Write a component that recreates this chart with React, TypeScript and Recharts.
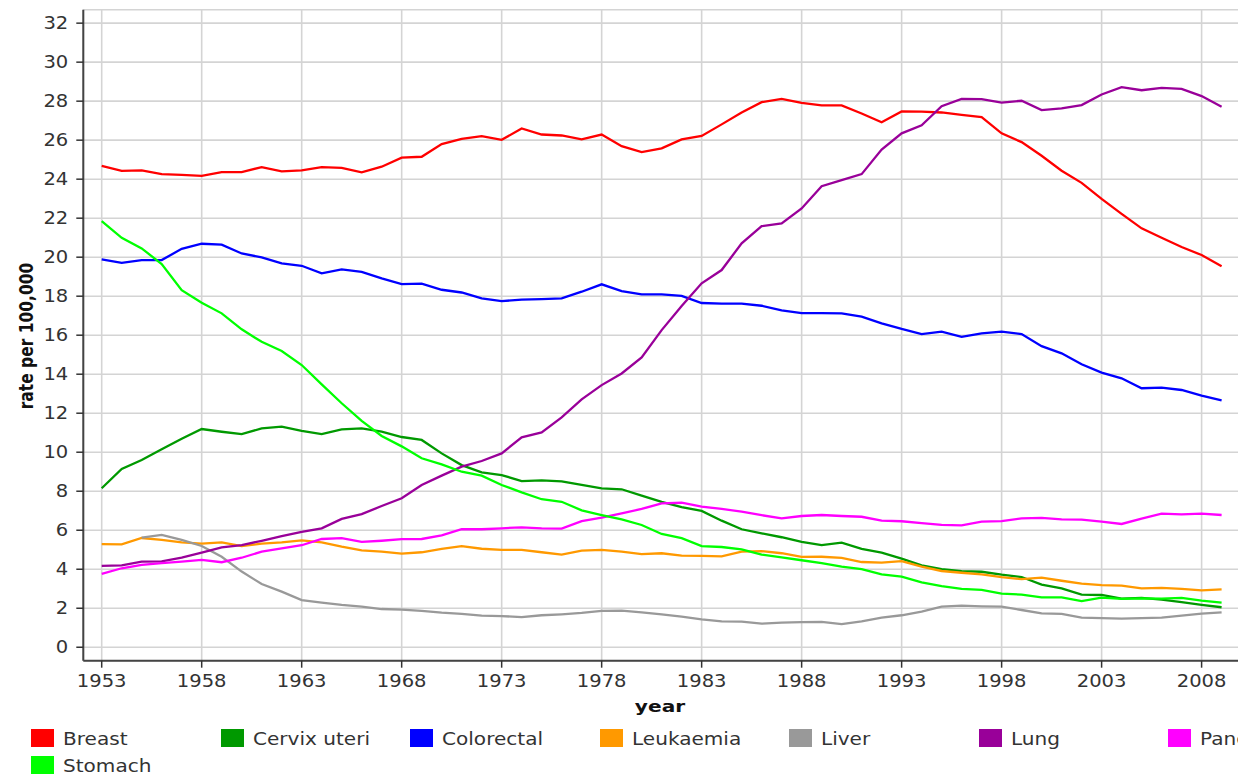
import React from "react";
import { LineChart, Line, XAxis, YAxis, CartesianGrid } from "recharts";

const years = [
  1953, 1954, 1955, 1956, 1957, 1958, 1959, 1960, 1961, 1962, 1963, 1964, 1965, 1966, 1967, 1968,
  1969, 1970, 1971, 1972, 1973, 1974, 1975, 1976, 1977, 1978, 1979, 1980, 1981, 1982, 1983, 1984,
  1985, 1986, 1987, 1988, 1989, 1990, 1991, 1992, 1993, 1994, 1995, 1996, 1997, 1998, 1999, 2000,
  2001, 2002, 2003, 2004, 2005, 2006, 2007, 2008, 2009,
];

const breast = [
  24.68, 24.43, 24.45, 24.26, 24.22, 24.17, 24.36, 24.36, 24.62, 24.4, 24.45, 24.62, 24.58, 24.35, 24.64, 25.1,
  25.15, 25.8, 26.07, 26.21, 26.02, 26.6, 26.29, 26.24, 26.04, 26.29, 25.69, 25.39, 25.58, 26.04, 26.22, 26.81,
  27.42, 27.95, 28.12, 27.91, 27.78, 27.78, 27.37, 26.92, 27.47, 27.46, 27.42, 27.3, 27.18, 26.35, 25.9, 25.2,
  24.43, 23.81, 22.99, 22.22, 21.48, 21.0, 20.52, 20.11, 19.54,
];
const cervix = [
  8.15, 9.14, 9.6, 10.15, 10.69, 11.19, 11.05, 10.93, 11.22, 11.31, 11.1, 10.93, 11.17, 11.22, 11.05, 10.78,
  10.63, 9.94, 9.34, 8.97, 8.83, 8.52, 8.56, 8.51, 8.32, 8.15, 8.1, 7.77, 7.45, 7.18, 6.99, 6.49,
  6.05, 5.84, 5.64, 5.4, 5.24, 5.36, 5.04, 4.85, 4.54, 4.2, 4.0, 3.9, 3.87, 3.72, 3.6, 3.21,
  3.02, 2.7, 2.68, 2.49, 2.53, 2.44, 2.31, 2.17, 2.05,
];
const colorectal = [
  19.89, 19.71, 19.85, 19.85, 20.43, 20.69, 20.64, 20.19, 19.99, 19.68, 19.56, 19.17, 19.37, 19.25, 18.91, 18.62,
  18.64, 18.33, 18.19, 17.89, 17.75, 17.82, 17.85, 17.89, 18.23, 18.61, 18.26, 18.09, 18.09, 18.02, 17.65, 17.62,
  17.62, 17.51, 17.27, 17.13, 17.13, 17.12, 16.95, 16.61, 16.32, 16.06, 16.18, 15.92, 16.09, 16.18, 16.06, 15.44,
  15.07, 14.51, 14.08, 13.79, 13.28, 13.31, 13.19, 12.9, 12.66,
];
const leukaemia = [
  5.29, 5.27, 5.6, 5.5, 5.38, 5.31, 5.38, 5.19, 5.31, 5.38, 5.48, 5.38, 5.16, 4.97, 4.9, 4.8,
  4.87, 5.04, 5.18, 5.05, 4.99, 4.99, 4.87, 4.75, 4.95, 4.99, 4.9, 4.77, 4.82, 4.7, 4.68, 4.66,
  4.9, 4.93, 4.82, 4.63, 4.64, 4.58, 4.37, 4.34, 4.42, 4.13, 3.91, 3.82, 3.74, 3.59, 3.49, 3.57,
  3.41, 3.26, 3.19, 3.16, 3.02, 3.04, 2.99, 2.92, 2.97,
];
const liver = [
  null, null, 5.62, 5.76, 5.5, 5.19, 4.64, 3.88, 3.24, 2.85, 2.42, 2.29, 2.17, 2.08, 1.96, 1.93,
  1.86, 1.77, 1.71, 1.62, 1.6, 1.54, 1.64, 1.69, 1.76, 1.86, 1.88, 1.79, 1.69, 1.57, 1.43, 1.33,
  1.31, 1.21, 1.26, 1.29, 1.3, 1.19, 1.33, 1.52, 1.64, 1.83, 2.08, 2.13, 2.1, 2.08, 1.91, 1.74,
  1.71, 1.52, 1.49, 1.47, 1.49, 1.52, 1.62, 1.72, 1.79,
];
const lung = [
  4.17, 4.2, 4.39, 4.4, 4.59, 4.85, 5.12, 5.24, 5.46, 5.7, 5.91, 6.1, 6.58, 6.83, 7.24, 7.64,
  8.32, 8.8, 9.26, 9.55, 9.94, 10.76, 11.02, 11.79, 12.71, 13.44, 14.04, 14.86, 16.26, 17.5, 18.66, 19.34,
  20.71, 21.59, 21.73, 22.5, 23.64, 23.95, 24.26, 25.52, 26.35, 26.76, 27.74, 28.12, 28.1, 27.93, 28.02, 27.54,
  27.63, 27.8, 28.34, 28.72, 28.56, 28.68, 28.63, 28.26, 27.71,
];
const pancreas = [
  3.76, 4.05, 4.22, 4.31, 4.39, 4.48, 4.36, 4.59, 4.9, 5.07, 5.23, 5.55, 5.59, 5.4, 5.46, 5.54,
  5.55, 5.74, 6.05, 6.05, 6.1, 6.15, 6.1, 6.08, 6.47, 6.64, 6.87, 7.09, 7.38, 7.41, 7.21, 7.09,
  6.95, 6.77, 6.61, 6.73, 6.78, 6.73, 6.69, 6.49, 6.46, 6.36, 6.27, 6.25, 6.44, 6.47, 6.61, 6.63,
  6.56, 6.54, 6.44, 6.32, 6.59, 6.85, 6.81, 6.85, 6.78,
];
const stomach = [
  21.85, 20.99, 20.45, 19.65, 18.31, 17.66, 17.12, 16.3, 15.66, 15.19, 14.47, 13.48, 12.51, 11.61, 10.83, 10.3,
  9.69, 9.38, 9.0, 8.8, 8.32, 7.94, 7.59, 7.46, 7.02, 6.78, 6.56, 6.27, 5.81, 5.59, 5.19, 5.14,
  5.02, 4.75, 4.61, 4.46, 4.31, 4.13, 4.01, 3.74, 3.62, 3.33, 3.13, 2.99, 2.94, 2.75, 2.7, 2.56,
  2.56, 2.37, 2.54, 2.48, 2.51, 2.49, 2.53, 2.39, 2.29,
];

const seriesNames = ["Breast", "Cervix uteri", "Colorectal", "Leukaemia", "Liver", "Lung", "Pancreas", "Stomach"];
const seriesValues = [breast, cervix, colorectal, leukaemia, liver, lung, pancreas, stomach];
const seriesColors = ["#ff0000", "#009900", "#0000ff", "#ff9900", "#999999", "#990099", "#ff00ff", "#00ff00"];

const xTicks = [1953, 1958, 1963, 1968, 1973, 1978, 1983, 1988, 1993, 1998, 2003, 2008];
const yTicks = [0, 2, 4, 6, 8, 10, 12, 14, 16, 18, 20, 22, 24, 26, 28, 30, 32];

const data = years.map((year, i) => {
  const row: Record<string, number | null> = { year };
  seriesNames.forEach((name, s) => {
    row[name] = seriesValues[s][i];
  });
  return row;
});

const FONT = "'DejaVu Sans', Verdana, sans-serif";
const STRETCH = 1.15;

const XTick = (props: any) => {
  const { x, y, payload } = props;
  return (
    <text
      x={x}
      y={y}
      dy="0.71em"
      textAnchor="middle"
      fontSize={17}
      fontFamily={FONT}
      fill="#333"
      transform={`translate(${x} 0) scale(${STRETCH} 1) translate(${-x} 0)`}
    >
      {payload.value}
    </text>
  );
};

const YTick = (props: any) => {
  const { x, y, payload } = props;
  return (
    <text
      x={x}
      y={y}
      dy="0.36em"
      textAnchor="end"
      fontSize={17}
      fontFamily={FONT}
      fill="#333"
      transform={`translate(${x} 0) scale(${STRETCH} 1) translate(${-x} 0)`}
    >
      {payload.value}
    </text>
  );
};

export default function App() {
  return (
    <div
      style={{
        position: "absolute",
        left: 0,
        top: 0,
        width: 1238,
        height: 775,
        overflow: "hidden",
        background: "#fff",
        fontFamily: FONT,
      }}
    >
      <LineChart
        width={1250}
        height={700}
        data={data}
        margin={{ top: 9.7, right: 10, left: 0, bottom: 0 }}
      >
        <CartesianGrid stroke="#d4d4d4" strokeWidth={1.6} />
        <XAxis
          dataKey="year"
          type="number"
          domain={[1952.08, 2009.92]}
          ticks={xTicks}
          allowDataOverflow
          height={39.3}
          axisLine={{ stroke: "#444", strokeWidth: 2 }}
          tickLine={{ stroke: "#333", strokeWidth: 1.5 }}
          tickSize={7}
          tickMargin={7}
          tick={<XTick />}
          interval={0}
        />
        <XAxis
          xAxisId="top"
          orientation="top"
          dataKey="year"
          type="number"
          domain={[1952.08, 2009.92]}
          height={0}
          tick={false}
          tickLine={false}
          axisLine={{ stroke: "#444", strokeWidth: 2 }}
        />
        <YAxis
          type="number"
          domain={[-0.69, 32.69]}
          ticks={yTicks}
          allowDataOverflow
          width={83.3}
          axisLine={{ stroke: "#444", strokeWidth: 2 }}
          tickLine={{ stroke: "#333", strokeWidth: 1.5 }}
          tickSize={7}
          tickMargin={8}
          tick={<YTick />}
          interval={0}
        />
        {seriesNames.map((name, s) => (
          <Line
            key={name}
            type="linear"
            dataKey={name}
            stroke={seriesColors[s]}
            strokeWidth={2.3}
            dot={false}
            activeDot={false}
            connectNulls={false}
            isAnimationActive={false}
          />
        ))}
      </LineChart>

      <div
        style={{
          position: "absolute",
          left: 27 - 100,
          top: 336 - 10,
          width: 200,
          height: 20,
          lineHeight: "20px",
          textAlign: "center",
          fontWeight: "bold",
          fontSize: 15.5,
          color: "#111",
          whiteSpace: "nowrap",
          transform: "rotate(-90deg) scale(1, 1.2)",
        }}
      >
        rate per 100,000
      </div>

      <div
        style={{
          position: "absolute",
          left: 660 - 50,
          top: 697,
          width: 100,
          height: 20,
          lineHeight: "20px",
          textAlign: "center",
          fontWeight: "bold",
          fontSize: 16.5,
          color: "#111",
          transform: "scale(1.22, 1)",
        }}
      >
        year
      </div>

      {seriesNames.map((name, s) => {
        const col = s % 7;
        const row = Math.floor(s / 7);
        return (
          <div
            key={name}
            style={{
              position: "absolute",
              left: 31 + col * 189.5,
              top: 729 + row * 27,
              height: 18,
              whiteSpace: "nowrap",
            }}
          >
            <div
              style={{
                position: "absolute",
                left: 0,
                top: 0,
                width: 23,
                height: 18,
                background: seriesColors[s],
              }}
            />
            <div
              style={{
                position: "absolute",
                left: 32,
                top: 2,
                fontSize: 17,
                lineHeight: "16px",
                color: "#333",
                transform: `scale(${1.18}, 1)`,
                transformOrigin: "left center",
              }}
            >
              {name}
            </div>
          </div>
        );
      })}
    </div>
  );
}
